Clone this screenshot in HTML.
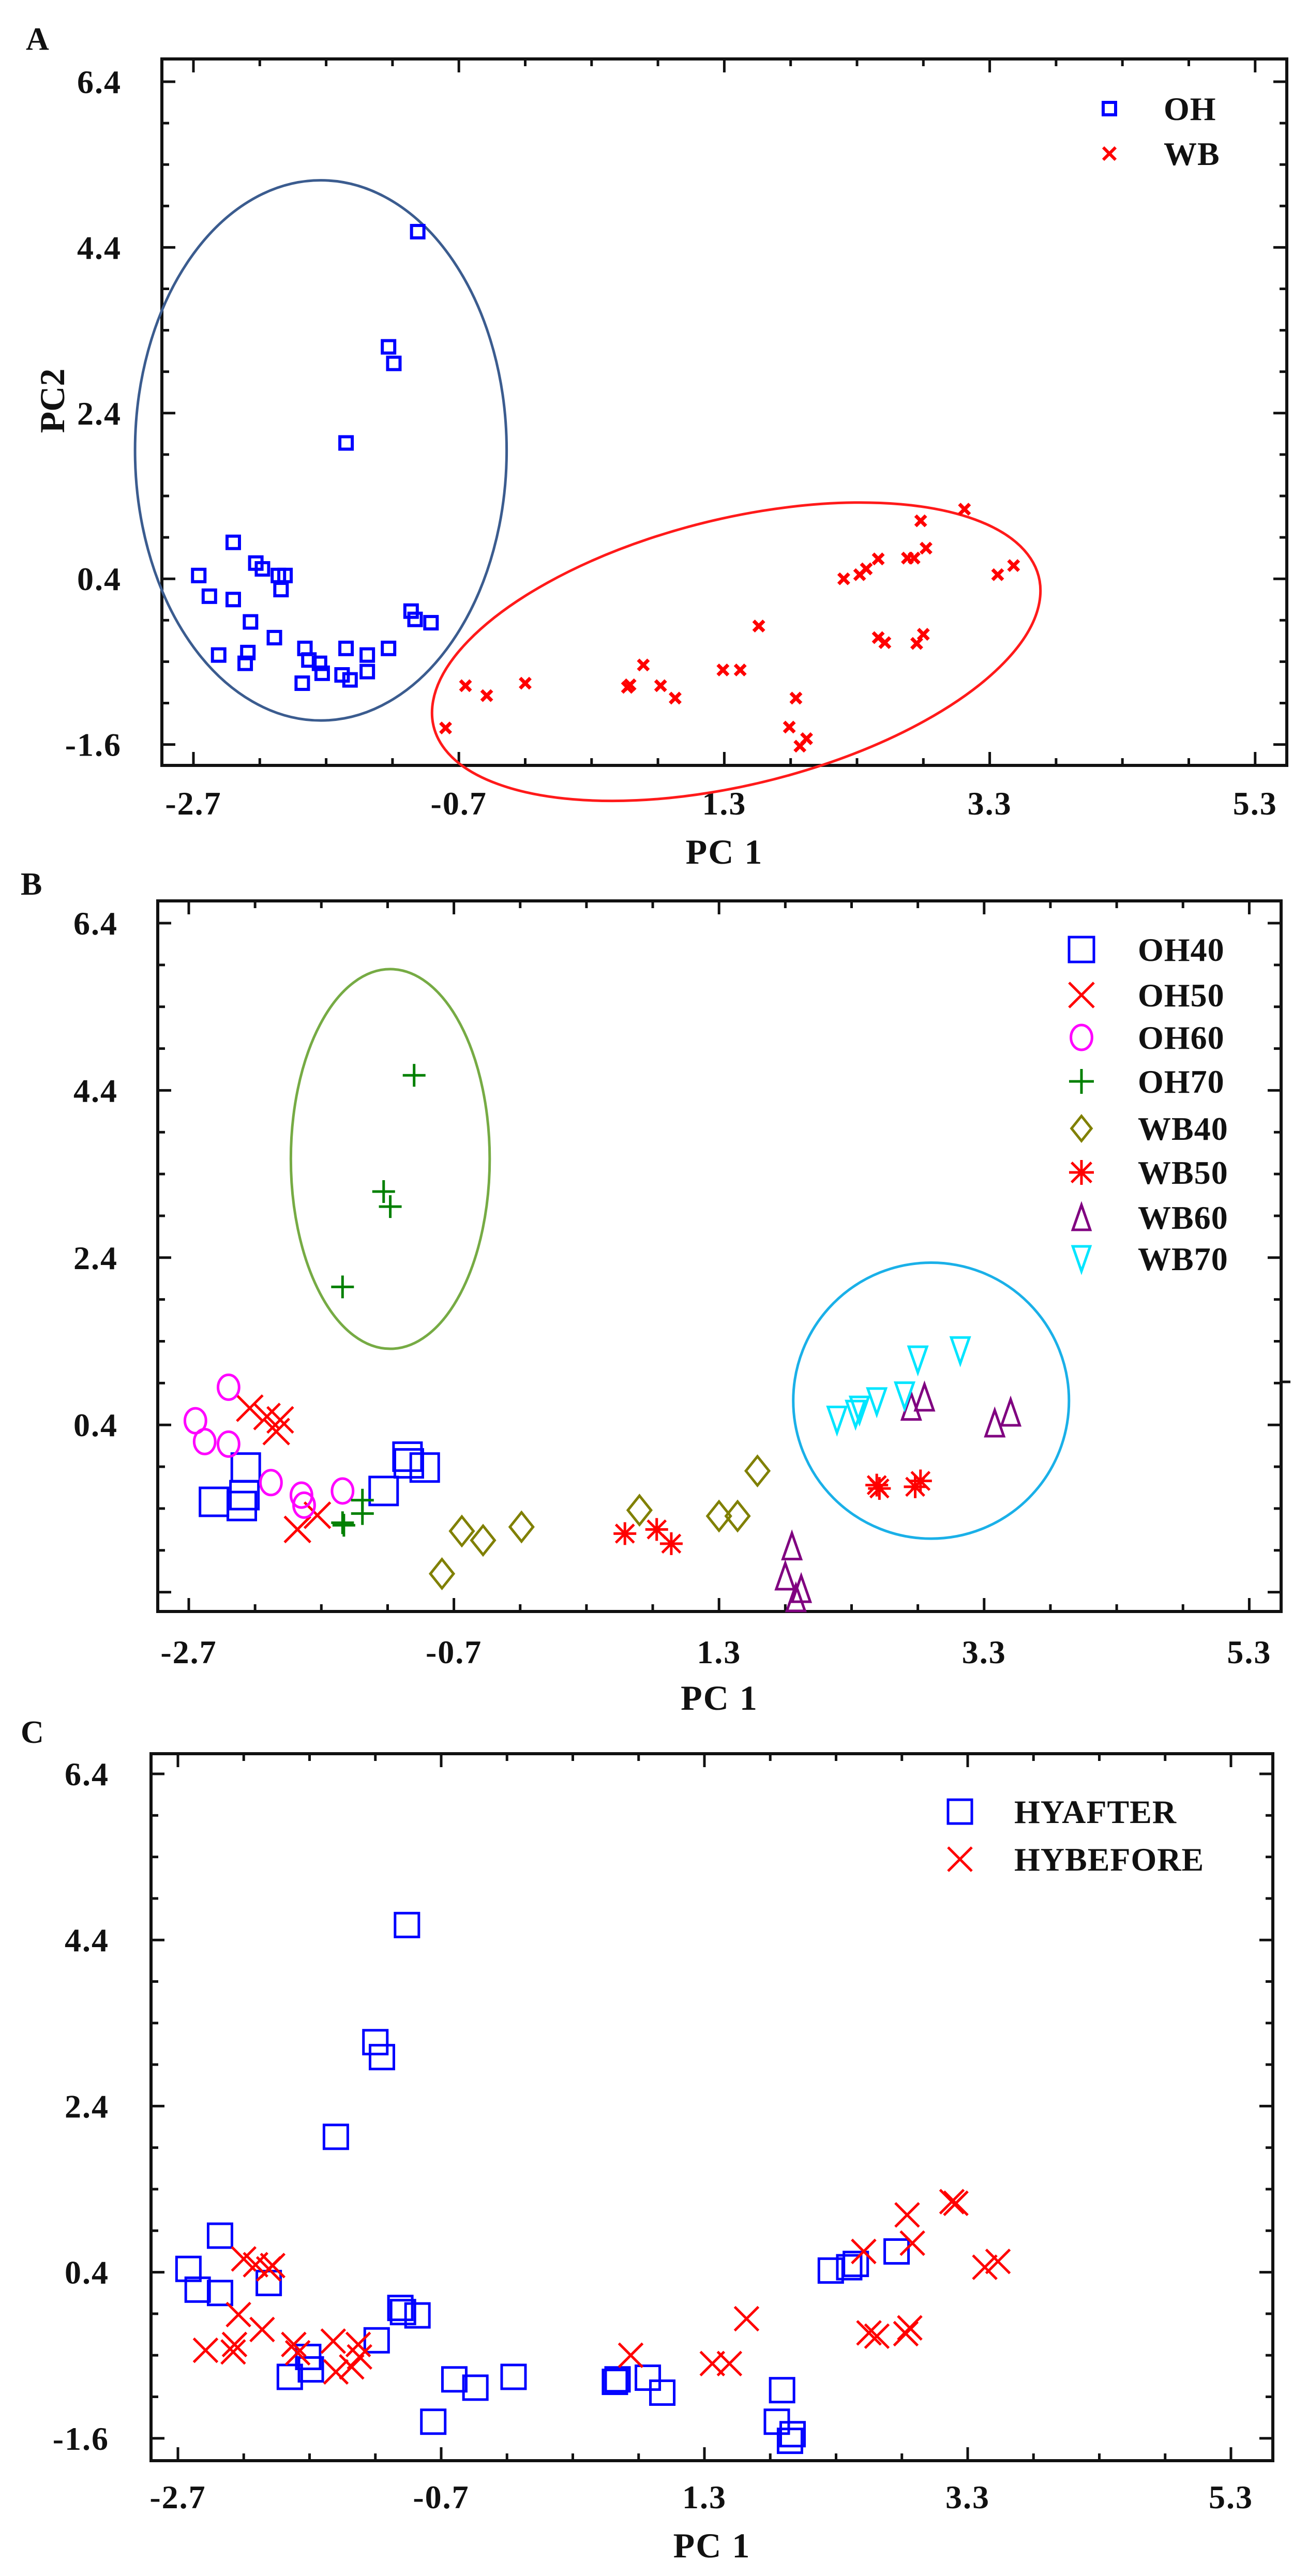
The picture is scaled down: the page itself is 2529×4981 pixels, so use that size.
<!DOCTYPE html>
<html><head><meta charset="utf-8"><style>
html,body{margin:0;padding:0;background:#fff}
svg{display:block}
text{font-family:"Liberation Serif",serif;font-weight:bold;fill:#111}
</style></head><body>
<svg id="fig" xmlns="http://www.w3.org/2000/svg" width="2529" height="4981" viewBox="0 0 2529 4981">
<rect x="0" y="0" width="2529" height="4981" fill="#fff"/>
</svg>
<script>
// ---- Panel A data ----
const aOHx=[-1.01,-1.23,-1.19,-1.55,-2.40,-2.23,-2.18,-2.06,-2.01,-2.66,-2.58,-2.40,-2.04,-2.27,-1.06,-1.03,-0.91,-2.09,-2.51,-2.29,-2.31,-1.86,-1.83,-1.75,-1.73,-1.88,-1.55,-1.58,-1.52,-1.39,-1.39,-1.23];
const aOHy=[4.59,3.20,3.00,2.04,0.84,0.59,0.52,0.44,0.44,0.44,0.19,0.15,0.27,-0.12,0.01,-0.09,-0.13,-0.31,-0.52,-0.49,-0.62,-0.44,-0.58,-0.62,-0.74,-0.86,-0.44,-0.76,-0.82,-0.52,-0.72,-0.44];
const aWBx=[3.11,2.78,2.82,2.68,2.73,2.46,2.37,2.32,2.20,3.48,3.36,1.56,2.46,2.51,2.80,2.75,0.69,1.29,1.42,-0.20,-0.65,0.57,0.59,0.82,-0.49,0.93,1.84,-0.80,1.79,1.92,1.87];
const aWBy=[1.24,1.10,0.77,0.65,0.65,0.64,0.52,0.45,0.40,0.56,0.45,-0.17,-0.31,-0.37,-0.27,-0.38,-0.64,-0.70,-0.70,-0.86,-0.89,-0.91,-0.88,-0.89,-1.01,-1.04,-1.04,-1.40,-1.39,-1.53,-1.62];
// ---- Panel B data ----
const bOH40x=[-2.51,-2.30,-2.28,-2.27,-1.23,-1.05,-1.04,-0.92];
const bOH40y=[-0.52,-0.57,-0.44,-0.11,-0.39,0.02,-0.06,-0.11];
const bOH50x=[-2.24,-2.11,-2.01,-2.04,-1.88,-1.73];
const bOH50y=[0.60,0.50,0.46,0.32,-0.85,-0.68];
const bOH60x=[-2.40,-2.65,-2.58,-2.40,-2.08,-1.85,-1.83,-1.54];
const bOH60y=[0.85,0.45,0.20,0.17,-0.29,-0.44,-0.56,-0.39];
const bOH70x=[-1.00,-1.23,-1.18,-1.54,-1.54,-1.39,-1.39,-1.53];
const bOH70y=[4.58,3.19,3.01,2.05,-0.77,-0.50,-0.66,-0.80];
const bWB40x=[-0.79,-0.64,-0.48,-0.19,0.70,1.30,1.44,1.59];
const bWB40y=[-1.38,-0.87,-0.98,-0.82,-0.62,-0.69,-0.69,-0.15];
const bWB50x=[0.59,0.83,0.94,2.49,2.51,2.78,2.82];
const bWB50y=[-0.90,-0.85,-1.02,-0.32,-0.36,-0.34,-0.27];
const bWB60x=[1.85,1.80,1.92,1.88,2.75,2.85,3.38,3.50];
const bWB60y=[-1.05,-1.41,-1.56,-1.67,0.62,0.73,0.42,0.55];
const bWB70x=[2.19,2.33,2.36,2.49,2.70,2.80,3.12];
const bWB70y=[0.46,0.53,0.58,0.68,0.75,1.18,1.29];
// ---- Panel C data ----
const cAFx=[-0.96,-1.20,-1.15,-1.50,-2.38,-2.62,-2.55,-2.38,-2.01,-1.71,-1.69,-1.85,-1.19,-1.01,-0.99,-0.88,-0.60,-0.44,-0.15,-0.76,0.62,0.64,0.87,0.98,1.89,1.85,1.97,1.95,2.26,2.40,2.45,2.76];
const cAFy=[4.58,3.17,2.99,2.03,0.84,0.44,0.19,0.15,0.27,-0.62,-0.77,-0.86,-0.42,-0.03,-0.08,-0.12,-0.89,-0.99,-0.86,-1.40,-0.92,-0.89,-0.87,-1.05,-1.02,-1.40,-1.55,-1.63,0.42,0.46,0.50,0.65];
const cBFx=[-2.20,-2.11,-2.01,-1.98,-2.49,-2.28,-2.27,-2.24,-2.06,-1.82,-1.79,-1.52,-1.50,-1.38,-1.32,-1.33,0.74,1.36,1.49,1.62,2.51,2.55,2.61,2.83,2.86,2.84,2.88,3.18,3.21,3.43,3.53];
const cBFy=[0.56,0.49,0.44,0.48,-0.54,-0.56,-0.47,-0.11,-0.29,-0.47,-0.57,-0.43,-0.80,-0.74,-0.62,-0.47,-0.60,-0.70,-0.70,-0.16,0.65,-0.33,-0.37,-0.34,-0.27,1.09,0.75,1.25,1.23,0.46,0.53];
// ---- axis ticks ----
const xTicks=[-2.7,-0.7,1.3,3.3,5.3];
const yTicks=[6.4,4.4,2.4,0.4,-1.6];

const NS="http://www.w3.org/2000/svg";
const svg=document.getElementById('fig');
function mk(tag,attrs,parent){const e=document.createElementNS(NS,tag);for(const k in attrs)e.setAttribute(k,attrs[k]);(parent||svg).appendChild(e);return e;}

function makePanel(p){
  const g=mk('g',{});
  
  
  const X=v=>p.x0px+(v-(-2.7))*p.xu;
  const Y=v=>p.y64px-(v-6.4)*p.yu;
  p.X=X;p.Y=Y;
  // frame
  const fr=mk('rect',{x:p.L,y:p.T,width:p.R-p.L,height:p.B-p.T,fill:'none',stroke:'#111','stroke-width':6},g);
  
  
  // ticks
  const tg=mk('g',{stroke:'#111','stroke-width':5},g);
  for(let v=-2.7;v<=5.31;v+=0.5){
    const major=Math.abs(((v+2.7)/2)-Math.round((v+2.7)/2))<0.01;
    const len=major?26:14;const x=X(v);
    if(x<p.L||x>p.R)continue;
    mk('line',{x1:x,y1:p.B,x2:x,y2:p.B-len},tg);
    mk('line',{x1:x,y1:p.T,x2:x,y2:p.T+len},tg);
  }
  for(let v=-1.6;v<=6.41;v+=0.5){
    const major=Math.abs(((v+1.6)/2)-Math.round((v+1.6)/2))<0.01;
    const len=major?26:14;const y=Y(v);
    if(y<p.T||y>p.B)continue;
    mk('line',{x1:p.L,y1:y,x2:p.L+len,y2:y},tg);
    mk('line',{x1:p.R,y1:y,x2:p.R-len,y2:y},tg);
  }
  xTicks.forEach(v=>{
    const t=mk('text',{x:X(v),y:p.xlabY,'text-anchor':'middle','font-size':64,'letter-spacing':2},g);
    t.textContent=v.toFixed(1);
    
    
  });
  yTicks.forEach(v=>{
    if(p.hideY && p.hideY.includes(v))return;
    const t=mk('text',{x:p.ylabR,y:Y(v)+22,'text-anchor':'end','font-size':64,'letter-spacing':2},g);
    t.textContent=v.toFixed(1);
    
    
  });
  const xt=mk('text',{x:(p.L+p.R)/2,y:p.xtitleY,'text-anchor':'middle','font-size':68,'letter-spacing':2},g);
  xt.textContent='PC 1';
  
  
  const pl=mk('text',{x:p.letX,y:p.letY,'font-size':62},g);
  pl.textContent=p.letter;
  
  
  p.g=g;
  return p;
}

function marker(type,x,y,s,color,sw,parent){
  const h=s/2;let e;
  const base={fill:'none',stroke:color,'stroke-width':sw};
  if(type==='square'){e=mk('rect',Object.assign({x:x-h,y:y-h,width:s,height:s},base),parent);}
  else if(type==='x'){e=mk('path',Object.assign({d:`M${x-h},${y-h}L${x+h},${y+h}M${x-h},${y+h}L${x+h},${y-h}`},base),parent);}
  else if(type==='circle'){e=mk('ellipse',Object.assign({cx:x,cy:y,rx:h*0.85,ry:h},base),parent);}
  else if(type==='plus'){e=mk('path',Object.assign({d:`M${x-h},${y}L${x+h},${y}M${x},${y-h}L${x},${y+h}`},base),parent);}
  else if(type==='diamond'){e=mk('path',Object.assign({d:`M${x},${y-h}L${x+h*0.8},${y}L${x},${y+h}L${x-h*0.8},${y}Z`},base),parent);}
  else if(type==='star'){const a=h*0.8;e=mk('path',Object.assign({d:`M${x-h},${y}L${x+h},${y}M${x},${y-h}L${x},${y+h}M${x-a},${y-a}L${x+a},${y+a}M${x-a},${y+a}L${x+a},${y-a}`},base),parent);}
  else if(type==='tri'){e=mk('path',Object.assign({d:`M${x},${y-h}L${x+h*0.7},${y+h}L${x-h*0.7},${y+h}Z`},base),parent);}
  else if(type==='itri'){e=mk('path',Object.assign({d:`M${x},${y+h}L${x+h*0.7},${y-h}L${x-h*0.7},${y-h}Z`},base),parent);}
  return e;
}

function series(p,xs,ys,type,color,s,sw,name){
  const sg=mk('g',{},p.g);
  
  
  xs.forEach((v,i)=>{
    const m=marker(type,p.X(v),p.Y(ys[i]),s,color,sw,sg);
    
    
  });
}
function legend(p,items,mx,tx,ys,s,sw){
  const lg=mk('g',{},p.g);
  
  
  items.forEach((it,i)=>{
    const m=marker(it[1],mx,ys[i],s,it[2],sw,lg);
    
    
    const t=mk('text',{x:tx,y:ys[i]+22,'font-size':64,'letter-spacing':1},lg);
    t.textContent=it[0];
    
    
  });
}
function ellipseData(p,cx,cy,rxd,ryd,color,name,rot,rxpx,rypx){
  let e;
  if(rot){
    e=mk('ellipse',{cx:0,cy:0,rx:rxpx,ry:rypx,fill:'none',stroke:color,'stroke-width':5,'vector-effect':'non-scaling-stroke',
      transform:`translate(${p.X(cx)},${p.Y(cy)}) scale(1.621,1.065) rotate(${rot})`},p.g);
  }else{
    e=mk('ellipse',{cx:p.X(cx),cy:p.Y(cy),rx:rxd*p.xu,ry:ryd*p.yu,fill:'none',stroke:color,'stroke-width':5},p.g);
  }
  
  
}

// Panel A
const A=makePanel({name:'panel-a',L:313,R:2488,T:114,B:1480,x0px:374,xu:256.6,y64px:158,yu:160.2,
  xlabY:1575,ylabR:235,xtitleY:1670,letter:'A',letX:50,letY:96});
const yt=mk('text',{x:0,y:0,'text-anchor':'middle','font-size':68,transform:'translate(124,775) rotate(-90)'},A.g);
yt.textContent='PC2';


ellipseData(A,-1.74,1.95,1.40,3.26,'#3b5c8f','oh-cluster-ellipse');
ellipseData(A,1.39,-0.48,0,0,'#ff1a1a','wb-cluster-ellipse',-27,390,230);
series(A,aOHx,aOHy,'square','#0000ff',24,6,'oh-series');
series(A,aWBx,aWBy,'x','#ff0000',20,7,'wb-series');
legend(A,[['OH','square','#0000ff'],['WB','x','#ff0000']],2145,2250,[210,297],24,6);

// Panel B
const Bp=makePanel({name:'panel-b',L:305,R:2477,T:1742,B:3116,x0px:365,xu:256.3,y64px:1785,yu:161.7,
  xlabY:3216,ylabR:228,xtitleY:3306,letter:'B',letX:40,letY:1730,hideY:[-1.6]});
mk('line',{x1:2477,y1:2672,x2:2495,y2:2672,stroke:'#111','stroke-width':5},Bp.g);
ellipseData(Bp,-1.18,3.58,0.75,2.27,'#76ab44','oh70-ellipse');
ellipseData(Bp,2.90,0.69,1.04,1.65,'#1ab0e8','wb-high-temp-ellipse');
series(Bp,bOH40x,bOH40y,'square','#0000ff',54,5,'oh40-series');
series(Bp,bOH50x,bOH50y,'x','#ff0000',50,5,'oh50-series');
series(Bp,bOH60x,bOH60y,'circle','#ff00ff',48,5,'oh60-series');
series(Bp,bOH70x,bOH70y,'plus','#008000',44,5,'oh70-series');
series(Bp,bWB40x,bWB40y,'diamond','#808000',56,5,'wb40-series');
series(Bp,bWB50x,bWB50y,'star','#ff0000',44,5,'wb50-series');
series(Bp,bWB60x,bWB60y,'tri','#800080',50,5,'wb60-series');
series(Bp,bWB70x,bWB70y,'itri','#00e5ff',50,5,'wb70-series');
legend(Bp,[['OH40','square','#0000ff'],['OH50','x','#ff0000'],['OH60','circle','#ff00ff'],['OH70','plus','#008000'],
  ['WB40','diamond','#808000'],['WB50','star','#ff0000'],['WB60','tri','#800080'],['WB70','itri','#00e5ff']],
  2091,2200,[1836,1924,2006,2091,2182,2267,2354,2434],48,5);

// Panel C
const Cp=makePanel({name:'panel-c',L:292,R:2461,T:3391,B:4758,x0px:344,xu:254.5,y64px:3430,yu:160.6,
  xlabY:4850,ylabR:211,xtitleY:4945,letter:'C',letX:40,letY:3370});
series(Cp,cAFx,cAFy,'square','#0000ff',46,5,'hyafter-series');
series(Cp,cBFx,cBFy,'x','#ff0000',46,5,'hybefore-series');
legend(Cp,[['HYAFTER','square','#0000ff'],['HYBEFORE','x','#ff0000']],1856,1961,[3503,3595],46,5);
</script>
</body></html>
